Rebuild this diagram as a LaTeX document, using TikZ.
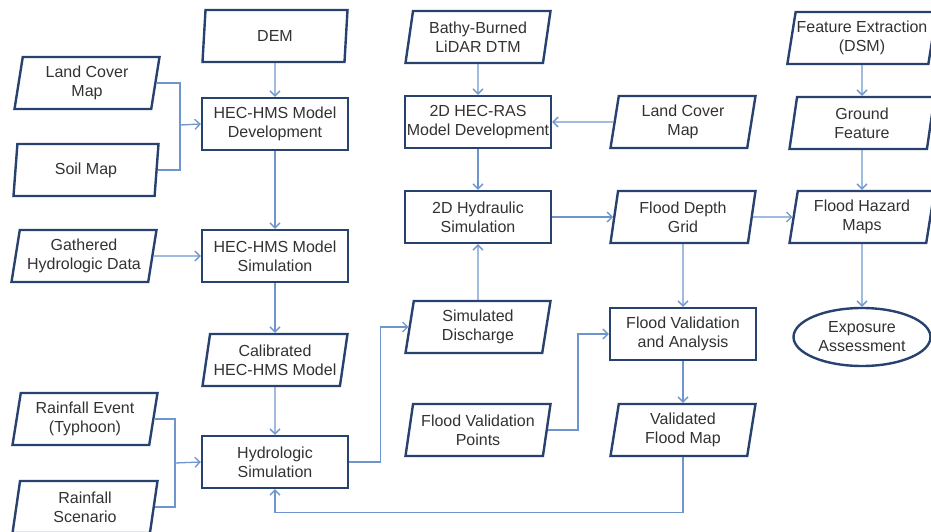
\documentclass[tikz,border=0pt]{standalone}
\usepackage{fontspec}
\setmainfont{Liberation Sans}
\usetikzlibrary{shapes.geometric,arrows.meta}
\definecolor{azulborda}{RGB}{40,66,112}
\definecolor{azulseta}{RGB}{110,150,205}
\definecolor{cinzatexto}{RGB}{50,50,50}
\tikzset{
  caixa/.style={draw=azulborda, line width=2.4pt, minimum width=146pt, minimum height=52pt,
    align=center, text=cinzatexto, font=\fontsize{16}{19}\selectfont, inner sep=1pt},
  dado/.style={caixa, trapezium, trapezium left angle=77, trapezium right angle=103,
    trapezium stretches body, minimum width=145pt},
  fim/.style={caixa, ellipse, minimum width=137pt, minimum height=58pt},
  liga/.style={draw=azulseta, line width=1.3pt},
  seta/.style={liga, -{Straight Barb[length=5pt,width=10pt]}},
}
\begin{document}
\begin{tikzpicture}[x=1pt, y=-1pt]
    \useasboundingbox (0,0) rectangle (931,532); % Moldura
    % Coluna HEC-HMS
    \node[dado] (dem) at (275,36) {DEM};
    \node[dado] (cobA) at (87,83) {Land Cover\\Map};
    \node[dado] (solo) at (86,170) {Soil Map};
    \node[caixa] (hmsdev) at (275,124) {HEC-HMS Model\\Development};
    \node[dado] (dados) at (84,256) {Gathered\\Hydrologic Data};
    \node[caixa] (hmssim) at (275,256) {HEC-HMS Model\\Simulation};
    \node[dado] (calib) at (275,360) {Calibrated\\HEC-HMS Model};
    \node[dado] (chuva) at (85,419) {Rainfall Event\\(Typhoon)};
    \node[dado] (cenario) at (85,507) {Rainfall\\Scenario};
    \node[caixa] (hidsim) at (275,462) {Hydrologic\\Simulation};
    % Coluna HEC-RAS
    \node[dado] (dtm) at (478,37) {Bathy-Burned\\LiDAR DTM};
    \node[caixa] (rasdev) at (478,122) {2D HEC-RAS\\Model Development};
    \node[caixa] (hidra) at (478,217) {2D Hydraulic\\Simulation};
    \node[dado] (vazao) at (478,327) {Simulated\\Discharge};
    \node[dado] (pontos) at (478,430) {Flood Validation\\Points};
    % Coluna da cheia
    \node[dado] (cobB) at (683,122) {Land Cover\\Map};
    \node[dado] (prof) at (683,217) {Flood Depth\\Grid};
    \node[caixa] (valid) at (683,334) {Flood Validation\\and Analysis};
    \node[dado] (mapa) at (683,430) {Validated\\Flood Map};
    % Coluna do perigo
    \node[dado] (dsm) at (862,38) {Feature Extraction\\(DSM)};
    \node[dado] (solid) at (862,123) {Ground\\Feature};
    \node[dado] (perigo) at (862,217) {Flood Hazard\\Maps};
    \node[fim] (expo) at (862,337) {Exposure\\Assessment};
    % Juncoes
    \coordinate (j1) at (180,125);
    \coordinate (j2) at (175,463);
    % Ligacoes
    \draw[seta] (dem) -- (hmsdev);
    \draw[liga] (cobA.east) -| (j1);
    \draw[liga] (solo.east) -| (j1);
    \draw[seta] (j1) -- (hmsdev.west);
    \draw[seta] (hmsdev) -- (hmssim);
    \draw[seta] (dados) -- (hmssim);
    \draw[seta] (hmssim) -- (calib);
    \draw[seta] (calib) -- (hidsim);
    \draw[liga] (chuva.east) -| (j2);
    \draw[liga] (cenario.east) -| (j2);
    \draw[seta] (j2) -- (hidsim.west);
    \draw[seta] (hidsim.east) -- ++(31,0) |- (vazao.west);
    \draw[seta] (vazao) -- (hidra);
    \draw[seta] (dtm) -- (rasdev);
    \draw[seta] (cobB) -- (rasdev);
    \draw[seta] (rasdev) -- (hidra);
    \draw[seta] (hidra) -- (prof);
    \draw[seta] (prof) -- (perigo);
    \draw[seta] (prof) -- (valid);
    \draw[seta] (pontos.east) -- ++(30,0) |- (valid.west);
    \draw[seta] (valid) -- (mapa);
    \draw[seta] (mapa.south) -- ++(0,55) -| (hidsim.south); % Retorno
    \draw[seta] (dsm) -- (solid);
    \draw[seta] (solid) -- (perigo);
    \draw[seta] (perigo) -- (expo);
\end{tikzpicture}
\end{document}
